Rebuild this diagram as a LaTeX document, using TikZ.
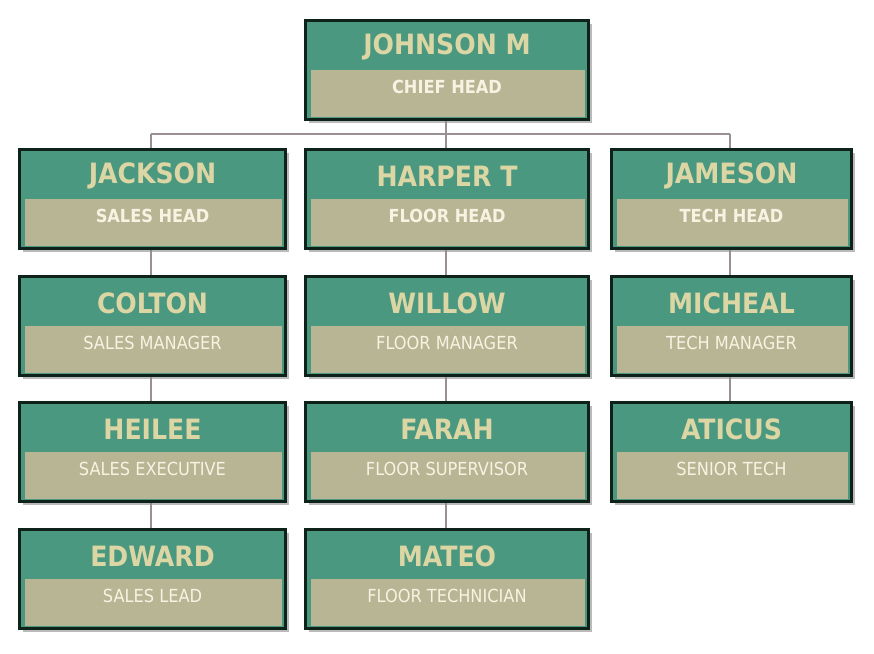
\documentclass[tikz,border=0pt]{standalone}
\usepackage{fontspec}
\setmainfont{DejaVu Sans Condensed}
\usetikzlibrary{shadows}
\definecolor{teal}{HTML}{4A9880}
\definecolor{tan}{HTML}{B8B594}
\definecolor{ttl}{HTML}{DCD5A4}
\definecolor{sub}{HTML}{F7F3E3}
\definecolor{edge}{HTML}{0F2219}
\definecolor{conn}{HTML}{9A8F95}
\tikzset{
  box/.style={draw=edge, line width=3pt, fill=teal, inner sep=0pt,
    drop shadow={shadow xshift=3pt, shadow yshift=-3pt, fill=black!45, opacity=.6}},
  band/.style={fill=tan, draw=none},
  title/.style={text=ttl, font=\bfseries\fontsize{28}{28}\selectfont},
  subb/.style={text=sub, font=\bfseries\fontsize{18}{18}\selectfont},
  subn/.style={text=sub, font=\fontsize{18}{18}\selectfont},
  conn/.style={draw=conn, line width=1.5pt}
}
% #1 name, #2 left, #3 top, #4 width, #5 title, #6 sub, #7 sub style
\newcommand\orgbox[7]{%
  \node[box, minimum width=#4pt, minimum height=99pt, anchor=north west] (#1) at (#2,#3) {};
  \fill[tan] ([shift={(7pt,-51pt)}]#1.north west) rectangle ([shift={(-5pt,4pt)}]#1.south east);
  \node[title] (#1-t) at ([yshift=-28pt]#1.north) {#5};
  \node[#7] (#1-s) at ([yshift=-68pt]#1.north) {#6};
}
\begin{document}
\begin{tikzpicture}[x=1pt,y=-1pt]
\useasboundingbox (0,0) rectangle (874,653);
\fill[white] (0,0) rectangle (874,653);
\coordinate (h1) at (151,134);
\coordinate (h2) at (446,134);
\coordinate (h3) at (730,134);
\draw[conn] (h1) -- (h3);
\draw[conn] (446,118) -- (h2);
\draw[conn] (h1) -- (151,148);
\draw[conn] (h2) -- (446,148);
\draw[conn] (h3) -- (730,148);
\draw[conn] (151,247) -- (151,528);
\draw[conn] (446,247) -- (446,528);
\draw[conn] (730,247) -- (730,401);
\orgbox{johnson}{304}{19}{283}{JOHNSON M}{CHIEF HEAD}{subb}
\orgbox{jackson}{18}{148}{266}{JACKSON}{SALES HEAD}{subb}
\orgbox{harper}{304}{148}{283}{HARPER T}{FLOOR HEAD}{subb}
\orgbox{jameson}{610}{148}{240}{JAMESON}{TECH HEAD}{subb}
\orgbox{colton}{18}{275}{266}{COLTON}{SALES MANAGER}{subn}
\orgbox{willow}{304}{275}{283}{WILLOW}{FLOOR MANAGER}{subn}
\orgbox{micheal}{610}{275}{240}{MICHEAL}{TECH MANAGER}{subn}
\orgbox{heilee}{18}{401}{266}{HEILEE}{SALES EXECUTIVE}{subn}
\orgbox{farah}{304}{401}{283}{FARAH}{FLOOR SUPERVISOR}{subn}
\orgbox{aticus}{610}{401}{240}{ATICUS}{SENIOR TECH}{subn}
\orgbox{edward}{18}{528}{266}{EDWARD}{SALES LEAD}{subn}
\orgbox{mateo}{304}{528}{283}{MATEO}{FLOOR TECHNICIAN}{subn}
\end{tikzpicture}
\end{document}
